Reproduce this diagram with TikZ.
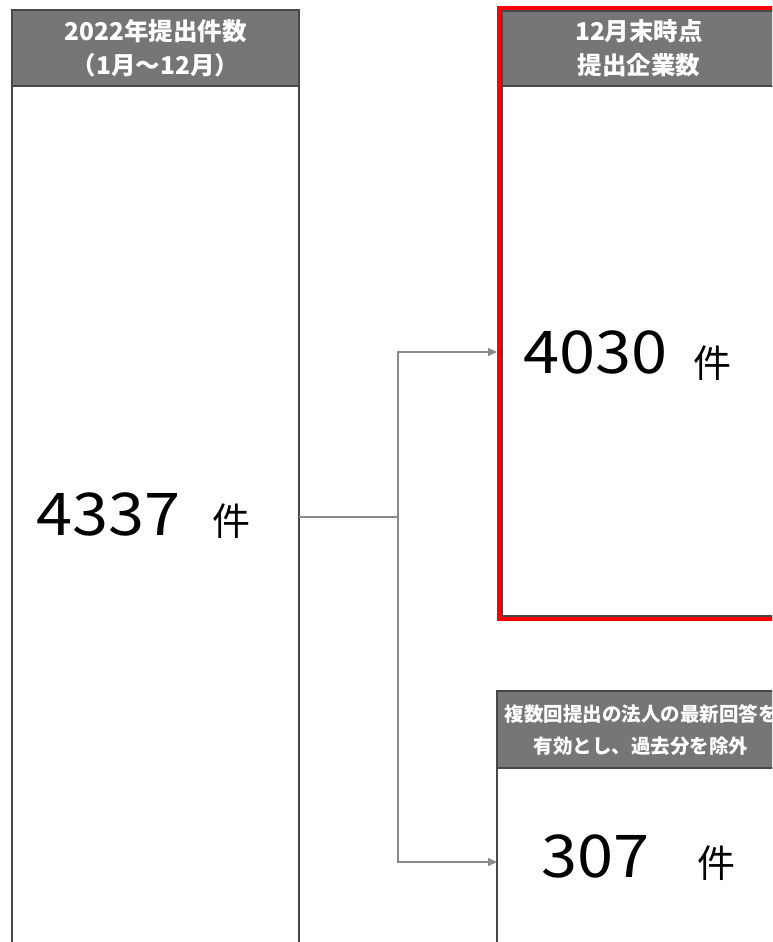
\documentclass[tikz,border=0pt]{standalone}
\usepackage{fontspec}
\setmainfont{Noto Sans CJK JP}
\newfontfamily\numfont[FakeStretch=1.1]{Noto Sans CJK JP}
\usetikzlibrary{calc,arrows.meta}
\usepackage{xcolor}
\definecolor{hdgray}{HTML}{767676}
\definecolor{lngray}{HTML}{8A8A8A}

\begin{document}
\begin{tikzpicture}[x=1pt,y=-1pt,
	boxline/.style={draw=black!72, line width=1.3pt},
	headtext/.style={text=white, font=\bfseries\fontsize{24.5}{34}\selectfont, align=center, inner sep=0pt},
	bignum/.style={font=\numfont\fontsize{59}{59}\selectfont, anchor=base west, inner sep=0pt},
	unit/.style={font=\fontsize{38}{38}\selectfont, anchor=base west, inner sep=0pt},
	conn/.style={draw=lngray, line width=1.4pt}]
		\clip (0,0) rectangle (772,942);
		\fill[white] (0,0) rectangle (772,942);
		% left column
		\draw[boxline, fill=white](12,86) rectangle (299,960);
		\draw[boxline, fill=hdgray](12,10) rectangle (299,86);
		\node[headtext] (lhead) at (155.5,48) {2022年提出件数\\（1月～12月）};
		\node[bignum] (total) at (36,535) {4337};
		\node[unit] (totalu) at (212,535) {件};
		% upper right column
		\draw[red, line width=5pt](499.5,8.5) rectangle (790,618.5);
		\draw[boxline, fill=white](502,86) rectangle (790,616);
		\draw[boxline, fill=hdgray](502,11) rectangle (790,86);
		\node[headtext] (rhead) at (639,48) {12月末時点\\提出企業数};
		\node[bignum] (firms) at (523,373) {4030};
		\node[unit] (firmsu) at (693,377) {件};
		% lower right column
		\draw[boxline, fill=white](497,768) rectangle (790,960);
		\draw[boxline, fill=hdgray](497,691) rectangle (790,768);
		\node[headtext, font=\bfseries\fontsize{19.5}{32}\selectfont] (dhead) at (641,730) {複数回提出の法人の最新回答を\\有効とし、過去分を除外};
		\node[bignum] (dup) at (541,877) {307};
		\node[unit] (dupu) at (697,877) {件};
		% connectors
		\coordinate (src) at (299,517);
		\coordinate (split) at (398,517);
		\coordinate (upin) at (497,352);
		\coordinate (lowin) at (497,862);
		\draw[conn] (src) -- (split);
		\draw[conn, -{Triangle[length=9pt,width=8pt]}] (split) |- (upin);
		\draw[conn, -{Triangle[length=9pt,width=8pt]}] (split) |- (lowin);
\end{tikzpicture}
\end{document}
